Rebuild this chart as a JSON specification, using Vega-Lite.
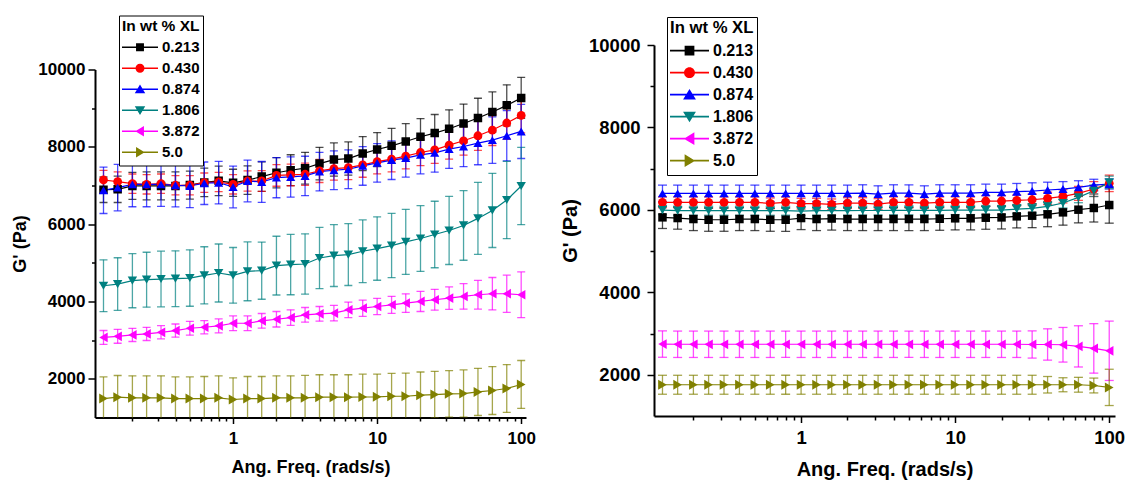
{
"$schema": "https://vega.github.io/schema/vega-lite/v6.json",
"padding": {"left": 11, "top": 15, "right": 5, "bottom": 0},
"background": "white",
"config": {"view": {"stroke": null}, "font": "Liberation Sans"},
"spacing": 24,
"center": true,
"datasets": {
"a": [
{"s":"0.213","f":0.126,"g":6890,"e":330},{"s":"0.213","f":0.158,"g":6900,"e":340},{"s":"0.213","f":0.2,"g":6990,"e":350},{"s":"0.213","f":0.251,"g":6990,"e":360},{"s":"0.213","f":0.316,"g":6990,"e":360},{"s":"0.213","f":0.398,"g":6990,"e":360},{"s":"0.213","f":0.501,"g":7010,"e":360},{"s":"0.213","f":0.631,"g":7080,"e":370},{"s":"0.213","f":0.794,"g":7120,"e":380},{"s":"0.213","f":1,"g":7070,"e":350},{"s":"0.213","f":1.26,"g":7140,"e":370},{"s":"0.213","f":1.58,"g":7230,"e":380},{"s":"0.213","f":2,"g":7330,"e":390},{"s":"0.213","f":2.51,"g":7395,"e":400},{"s":"0.213","f":3.16,"g":7447,"e":410},{"s":"0.213","f":3.98,"g":7567,"e":420},{"s":"0.213","f":5.01,"g":7671,"e":430},{"s":"0.213","f":6.31,"g":7697,"e":430},{"s":"0.213","f":7.94,"g":7826,"e":440},{"s":"0.213","f":10,"g":7930,"e":440},{"s":"0.213","f":12.6,"g":8026,"e":450},{"s":"0.213","f":15.8,"g":8138,"e":460},{"s":"0.213","f":20,"g":8260,"e":470},{"s":"0.213","f":25.1,"g":8356,"e":480},{"s":"0.213","f":31.6,"g":8468,"e":490},{"s":"0.213","f":39.8,"g":8605,"e":500},{"s":"0.213","f":50.1,"g":8746,"e":510},{"s":"0.213","f":63.1,"g":8901,"e":520},{"s":"0.213","f":79.4,"g":9073,"e":530},{"s":"0.213","f":100,"g":9265,"e":530},
{"s":"0.430","f":0.126,"g":7143,"e":250},{"s":"0.430","f":0.158,"g":7100,"e":250},{"s":"0.430","f":0.2,"g":7047,"e":250},{"s":"0.430","f":0.251,"g":7030,"e":250},{"s":"0.430","f":0.316,"g":7047,"e":250},{"s":"0.430","f":0.398,"g":7006,"e":250},{"s":"0.430","f":0.501,"g":7006,"e":250},{"s":"0.430","f":0.631,"g":7073,"e":250},{"s":"0.430","f":0.794,"g":7091,"e":250},{"s":"0.430","f":1,"g":7030,"e":250},{"s":"0.430","f":1.26,"g":7117,"e":260},{"s":"0.430","f":1.58,"g":7117,"e":270},{"s":"0.430","f":2,"g":7260,"e":280},{"s":"0.430","f":2.51,"g":7273,"e":280},{"s":"0.430","f":3.16,"g":7291,"e":290},{"s":"0.430","f":3.98,"g":7377,"e":300},{"s":"0.430","f":5.01,"g":7437,"e":300},{"s":"0.430","f":6.31,"g":7463,"e":310},{"s":"0.430","f":7.94,"g":7533,"e":320},{"s":"0.430","f":10,"g":7619,"e":320},{"s":"0.430","f":12.6,"g":7681,"e":330},{"s":"0.430","f":15.8,"g":7759,"e":330},{"s":"0.430","f":20,"g":7853,"e":340},{"s":"0.430","f":25.1,"g":7922,"e":350},{"s":"0.430","f":31.6,"g":8044,"e":360},{"s":"0.430","f":39.8,"g":8156,"e":370},{"s":"0.430","f":50.1,"g":8286,"e":380},{"s":"0.430","f":63.1,"g":8434,"e":400},{"s":"0.430","f":79.4,"g":8616,"e":420},{"s":"0.430","f":100,"g":8813,"e":450},
{"s":"0.874","f":0.126,"g":6876,"e":600},{"s":"0.874","f":0.158,"g":6944,"e":600},{"s":"0.874","f":0.2,"g":7030,"e":580},{"s":"0.874","f":0.251,"g":7030,"e":580},{"s":"0.874","f":0.316,"g":7030,"e":570},{"s":"0.874","f":0.398,"g":7006,"e":560},{"s":"0.874","f":0.501,"g":6987,"e":560},{"s":"0.874","f":0.631,"g":7058,"e":550},{"s":"0.874","f":0.794,"g":7073,"e":550},{"s":"0.874","f":1,"g":6962,"e":540},{"s":"0.874","f":1.26,"g":7117,"e":540},{"s":"0.874","f":1.58,"g":7091,"e":530},{"s":"0.874","f":2,"g":7203,"e":520},{"s":"0.874","f":2.51,"g":7221,"e":520},{"s":"0.874","f":3.16,"g":7247,"e":510},{"s":"0.874","f":3.98,"g":7359,"e":500},{"s":"0.874","f":5.01,"g":7395,"e":500},{"s":"0.874","f":6.31,"g":7421,"e":500},{"s":"0.874","f":7.94,"g":7507,"e":500},{"s":"0.874","f":10,"g":7585,"e":500},{"s":"0.874","f":12.6,"g":7655,"e":500},{"s":"0.874","f":15.8,"g":7707,"e":490},{"s":"0.874","f":20,"g":7793,"e":490},{"s":"0.874","f":25.1,"g":7844,"e":500},{"s":"0.874","f":31.6,"g":7941,"e":500},{"s":"0.874","f":39.8,"g":8008,"e":520},{"s":"0.874","f":50.1,"g":8096,"e":560},{"s":"0.874","f":63.1,"g":8174,"e":600},{"s":"0.874","f":79.4,"g":8286,"e":650},{"s":"0.874","f":100,"g":8398,"e":700},
{"s":"1.806","f":0.126,"g":4408,"e":670},{"s":"1.806","f":0.158,"g":4451,"e":680},{"s":"1.806","f":0.2,"g":4538,"e":700},{"s":"1.806","f":0.251,"g":4564,"e":710},{"s":"1.806","f":0.316,"g":4581,"e":720},{"s":"1.806","f":0.398,"g":4590,"e":720},{"s":"1.806","f":0.501,"g":4607,"e":730},{"s":"1.806","f":0.631,"g":4676,"e":740},{"s":"1.806","f":0.794,"g":4737,"e":750},{"s":"1.806","f":1,"g":4676,"e":720},{"s":"1.806","f":1.26,"g":4780,"e":760},{"s":"1.806","f":1.58,"g":4798,"e":740},{"s":"1.806","f":2,"g":4928,"e":760},{"s":"1.806","f":2.51,"g":4954,"e":780},{"s":"1.806","f":3.16,"g":4970,"e":780},{"s":"1.806","f":3.98,"g":5125,"e":790},{"s":"1.806","f":5.01,"g":5188,"e":800},{"s":"1.806","f":6.31,"g":5214,"e":800},{"s":"1.806","f":7.94,"g":5299,"e":810},{"s":"1.806","f":10,"g":5369,"e":820},{"s":"1.806","f":12.6,"g":5447,"e":830},{"s":"1.806","f":15.8,"g":5541,"e":840},{"s":"1.806","f":20,"g":5629,"e":850},{"s":"1.806","f":25.1,"g":5733,"e":860},{"s":"1.806","f":31.6,"g":5837,"e":880},{"s":"1.806","f":39.8,"g":5967,"e":900},{"s":"1.806","f":50.1,"g":6149,"e":930},{"s":"1.806","f":63.1,"g":6356,"e":960},{"s":"1.806","f":79.4,"g":6624,"e":1000},{"s":"1.806","f":100,"g":6987,"e":1000},
{"s":"3.872","f":0.126,"g":3070,"e":180},{"s":"3.872","f":0.158,"g":3100,"e":180},{"s":"3.872","f":0.2,"g":3136,"e":170},{"s":"3.872","f":0.251,"g":3162,"e":170},{"s":"3.872","f":0.316,"g":3204,"e":170},{"s":"3.872","f":0.398,"g":3248,"e":170},{"s":"3.872","f":0.501,"g":3308,"e":180},{"s":"3.872","f":0.631,"g":3334,"e":170},{"s":"3.872","f":0.794,"g":3370,"e":180},{"s":"3.872","f":1,"g":3437,"e":190},{"s":"3.872","f":1.26,"g":3437,"e":190},{"s":"3.872","f":1.58,"g":3500,"e":190},{"s":"3.872","f":2,"g":3541,"e":200},{"s":"3.872","f":2.51,"g":3585,"e":200},{"s":"3.872","f":3.16,"g":3655,"e":190},{"s":"3.872","f":3.98,"g":3681,"e":190},{"s":"3.872","f":5.01,"g":3698,"e":200},{"s":"3.872","f":6.31,"g":3785,"e":200},{"s":"3.872","f":7.94,"g":3827,"e":210},{"s":"3.872","f":10,"g":3871,"e":210},{"s":"3.872","f":12.6,"g":3915,"e":220},{"s":"3.872","f":15.8,"g":3958,"e":240},{"s":"3.872","f":20,"g":4001,"e":260},{"s":"3.872","f":25.1,"g":4045,"e":270},{"s":"3.872","f":31.6,"g":4088,"e":290},{"s":"3.872","f":39.8,"g":4131,"e":330},{"s":"3.872","f":50.1,"g":4175,"e":370},{"s":"3.872","f":63.1,"g":4201,"e":420},{"s":"3.872","f":79.4,"g":4201,"e":480},{"s":"3.872","f":100,"g":4175,"e":590},
{"s":"5.0","f":0.126,"g":1490,"e":560},{"s":"5.0","f":0.158,"g":1526,"e":560},{"s":"5.0","f":0.2,"g":1508,"e":570},{"s":"5.0","f":0.251,"g":1508,"e":570},{"s":"5.0","f":0.316,"g":1508,"e":570},{"s":"5.0","f":0.398,"g":1490,"e":560},{"s":"5.0","f":0.501,"g":1490,"e":560},{"s":"5.0","f":0.631,"g":1490,"e":570},{"s":"5.0","f":0.794,"g":1508,"e":570},{"s":"5.0","f":1,"g":1465,"e":560},{"s":"5.0","f":1.26,"g":1490,"e":570},{"s":"5.0","f":1.58,"g":1490,"e":570},{"s":"5.0","f":2,"g":1508,"e":570},{"s":"5.0","f":2.51,"g":1508,"e":570},{"s":"5.0","f":3.16,"g":1508,"e":580},{"s":"5.0","f":3.98,"g":1526,"e":580},{"s":"5.0","f":5.01,"g":1526,"e":580},{"s":"5.0","f":6.31,"g":1526,"e":580},{"s":"5.0","f":7.94,"g":1530,"e":590},{"s":"5.0","f":10,"g":1534,"e":590},{"s":"5.0","f":12.6,"g":1550,"e":590},{"s":"5.0","f":15.8,"g":1550,"e":600},{"s":"5.0","f":20,"g":1577,"e":600},{"s":"5.0","f":25.1,"g":1594,"e":600},{"s":"5.0","f":31.6,"g":1612,"e":600},{"s":"5.0","f":39.8,"g":1620,"e":610},{"s":"5.0","f":50.1,"g":1662,"e":610},{"s":"5.0","f":63.1,"g":1698,"e":620},{"s":"5.0","f":79.4,"g":1750,"e":620},{"s":"5.0","f":100,"g":1854,"e":620}
],
"b": [
{"s":"0.213","f":0.126,"g":5819,"e":270},{"s":"0.213","f":0.158,"g":5802,"e":270},{"s":"0.213","f":0.2,"g":5778,"e":280},{"s":"0.213","f":0.251,"g":5761,"e":280},{"s":"0.213","f":0.316,"g":5761,"e":280},{"s":"0.213","f":0.398,"g":5778,"e":280},{"s":"0.213","f":0.501,"g":5778,"e":280},{"s":"0.213","f":0.631,"g":5761,"e":280},{"s":"0.213","f":0.794,"g":5761,"e":280},{"s":"0.213","f":1,"g":5802,"e":280},{"s":"0.213","f":1.26,"g":5778,"e":280},{"s":"0.213","f":1.58,"g":5790,"e":280},{"s":"0.213","f":2,"g":5778,"e":280},{"s":"0.213","f":2.51,"g":5778,"e":280},{"s":"0.213","f":3.16,"g":5778,"e":280},{"s":"0.213","f":3.98,"g":5778,"e":280},{"s":"0.213","f":5.01,"g":5778,"e":280},{"s":"0.213","f":6.31,"g":5778,"e":280},{"s":"0.213","f":7.94,"g":5785,"e":280},{"s":"0.213","f":10,"g":5795,"e":280},{"s":"0.213","f":12.6,"g":5795,"e":280},{"s":"0.213","f":15.8,"g":5810,"e":280},{"s":"0.213","f":20,"g":5818,"e":280},{"s":"0.213","f":25.1,"g":5843,"e":280},{"s":"0.213","f":31.6,"g":5859,"e":290},{"s":"0.213","f":39.8,"g":5892,"e":300},{"s":"0.213","f":50.1,"g":5940,"e":310},{"s":"0.213","f":63.1,"g":6005,"e":320},{"s":"0.213","f":79.4,"g":6046,"e":340},{"s":"0.213","f":100,"g":6118,"e":440},
{"s":"0.430","f":0.126,"g":6183,"e":130},{"s":"0.430","f":0.158,"g":6183,"e":130},{"s":"0.430","f":0.2,"g":6183,"e":130},{"s":"0.430","f":0.251,"g":6183,"e":130},{"s":"0.430","f":0.316,"g":6183,"e":130},{"s":"0.430","f":0.398,"g":6183,"e":130},{"s":"0.430","f":0.501,"g":6183,"e":130},{"s":"0.430","f":0.631,"g":6159,"e":130},{"s":"0.430","f":0.794,"g":6183,"e":130},{"s":"0.430","f":1,"g":6151,"e":130},{"s":"0.430","f":1.26,"g":6151,"e":130},{"s":"0.430","f":1.58,"g":6135,"e":130},{"s":"0.430","f":2,"g":6166,"e":130},{"s":"0.430","f":2.51,"g":6166,"e":130},{"s":"0.430","f":3.16,"g":6142,"e":130},{"s":"0.430","f":3.98,"g":6183,"e":130},{"s":"0.430","f":5.01,"g":6183,"e":130},{"s":"0.430","f":6.31,"g":6166,"e":130},{"s":"0.430","f":7.94,"g":6183,"e":130},{"s":"0.430","f":10,"g":6183,"e":130},{"s":"0.430","f":12.6,"g":6183,"e":130},{"s":"0.430","f":15.8,"g":6215,"e":130},{"s":"0.430","f":20,"g":6215,"e":130},{"s":"0.430","f":25.1,"g":6230,"e":130},{"s":"0.430","f":31.6,"g":6246,"e":140},{"s":"0.430","f":39.8,"g":6280,"e":150},{"s":"0.430","f":50.1,"g":6329,"e":160},{"s":"0.430","f":63.1,"g":6401,"e":170},{"s":"0.430","f":79.4,"g":6506,"e":180},{"s":"0.430","f":100,"g":6644,"e":200},
{"s":"0.874","f":0.126,"g":6401,"e":200},{"s":"0.874","f":0.158,"g":6401,"e":200},{"s":"0.874","f":0.2,"g":6401,"e":200},{"s":"0.874","f":0.251,"g":6401,"e":200},{"s":"0.874","f":0.316,"g":6401,"e":200},{"s":"0.874","f":0.398,"g":6401,"e":200},{"s":"0.874","f":0.501,"g":6401,"e":200},{"s":"0.874","f":0.631,"g":6401,"e":200},{"s":"0.874","f":0.794,"g":6401,"e":200},{"s":"0.874","f":1,"g":6401,"e":200},{"s":"0.874","f":1.26,"g":6401,"e":200},{"s":"0.874","f":1.58,"g":6401,"e":200},{"s":"0.874","f":2,"g":6401,"e":200},{"s":"0.874","f":2.51,"g":6409,"e":200},{"s":"0.874","f":3.16,"g":6384,"e":200},{"s":"0.874","f":3.98,"g":6409,"e":200},{"s":"0.874","f":5.01,"g":6409,"e":200},{"s":"0.874","f":6.31,"g":6384,"e":200},{"s":"0.874","f":7.94,"g":6409,"e":200},{"s":"0.874","f":10,"g":6409,"e":200},{"s":"0.874","f":12.6,"g":6409,"e":200},{"s":"0.874","f":15.8,"g":6425,"e":200},{"s":"0.874","f":20,"g":6425,"e":200},{"s":"0.874","f":25.1,"g":6441,"e":200},{"s":"0.874","f":31.6,"g":6457,"e":200},{"s":"0.874","f":39.8,"g":6482,"e":190},{"s":"0.874","f":50.1,"g":6506,"e":180},{"s":"0.874","f":63.1,"g":6547,"e":160},{"s":"0.874","f":79.4,"g":6603,"e":140},{"s":"0.874","f":100,"g":6627,"e":120},
{"s":"1.806","f":0.126,"g":5996,"e":110},{"s":"1.806","f":0.158,"g":5980,"e":110},{"s":"1.806","f":0.2,"g":5980,"e":110},{"s":"1.806","f":0.251,"g":5980,"e":110},{"s":"1.806","f":0.316,"g":5980,"e":110},{"s":"1.806","f":0.398,"g":5980,"e":110},{"s":"1.806","f":0.501,"g":5980,"e":110},{"s":"1.806","f":0.631,"g":5980,"e":110},{"s":"1.806","f":0.794,"g":5980,"e":110},{"s":"1.806","f":1,"g":5970,"e":110},{"s":"1.806","f":1.26,"g":5980,"e":110},{"s":"1.806","f":1.58,"g":5980,"e":110},{"s":"1.806","f":2,"g":5980,"e":110},{"s":"1.806","f":2.51,"g":5985,"e":110},{"s":"1.806","f":3.16,"g":5985,"e":110},{"s":"1.806","f":3.98,"g":5990,"e":110},{"s":"1.806","f":5.01,"g":5990,"e":110},{"s":"1.806","f":6.31,"g":5990,"e":110},{"s":"1.806","f":7.94,"g":5990,"e":110},{"s":"1.806","f":10,"g":5996,"e":110},{"s":"1.806","f":12.6,"g":5996,"e":110},{"s":"1.806","f":15.8,"g":5996,"e":110},{"s":"1.806","f":20,"g":5996,"e":110},{"s":"1.806","f":25.1,"g":6020,"e":110},{"s":"1.806","f":31.6,"g":6037,"e":110},{"s":"1.806","f":39.8,"g":6086,"e":110},{"s":"1.806","f":50.1,"g":6166,"e":120},{"s":"1.806","f":63.1,"g":6304,"e":130},{"s":"1.806","f":79.4,"g":6465,"e":140},{"s":"1.806","f":100,"g":6668,"e":150},
{"s":"3.872","f":0.126,"g":2745,"e":320},{"s":"3.872","f":0.158,"g":2740,"e":320},{"s":"3.872","f":0.2,"g":2740,"e":320},{"s":"3.872","f":0.251,"g":2740,"e":320},{"s":"3.872","f":0.316,"g":2740,"e":320},{"s":"3.872","f":0.398,"g":2740,"e":320},{"s":"3.872","f":0.501,"g":2740,"e":320},{"s":"3.872","f":0.631,"g":2740,"e":320},{"s":"3.872","f":0.794,"g":2740,"e":320},{"s":"3.872","f":1,"g":2740,"e":320},{"s":"3.872","f":1.26,"g":2740,"e":320},{"s":"3.872","f":1.58,"g":2740,"e":320},{"s":"3.872","f":2,"g":2740,"e":320},{"s":"3.872","f":2.51,"g":2740,"e":320},{"s":"3.872","f":3.16,"g":2740,"e":320},{"s":"3.872","f":3.98,"g":2740,"e":320},{"s":"3.872","f":5.01,"g":2740,"e":320},{"s":"3.872","f":6.31,"g":2740,"e":320},{"s":"3.872","f":7.94,"g":2740,"e":320},{"s":"3.872","f":10,"g":2740,"e":320},{"s":"3.872","f":12.6,"g":2740,"e":320},{"s":"3.872","f":15.8,"g":2740,"e":320},{"s":"3.872","f":20,"g":2740,"e":320},{"s":"3.872","f":25.1,"g":2740,"e":320},{"s":"3.872","f":31.6,"g":2735,"e":330},{"s":"3.872","f":39.8,"g":2735,"e":380},{"s":"3.872","f":50.1,"g":2728,"e":420},{"s":"3.872","f":63.1,"g":2689,"e":500},{"s":"3.872","f":79.4,"g":2640,"e":600},{"s":"3.872","f":100,"g":2582,"e":720},
{"s":"5.0","f":0.126,"g":1758,"e":230},{"s":"5.0","f":0.158,"g":1758,"e":230},{"s":"5.0","f":0.2,"g":1758,"e":230},{"s":"5.0","f":0.251,"g":1758,"e":230},{"s":"5.0","f":0.316,"g":1758,"e":230},{"s":"5.0","f":0.398,"g":1758,"e":230},{"s":"5.0","f":0.501,"g":1758,"e":230},{"s":"5.0","f":0.631,"g":1758,"e":230},{"s":"5.0","f":0.794,"g":1758,"e":230},{"s":"5.0","f":1,"g":1758,"e":230},{"s":"5.0","f":1.26,"g":1758,"e":230},{"s":"5.0","f":1.58,"g":1758,"e":230},{"s":"5.0","f":2,"g":1758,"e":230},{"s":"5.0","f":2.51,"g":1758,"e":230},{"s":"5.0","f":3.16,"g":1758,"e":230},{"s":"5.0","f":3.98,"g":1758,"e":230},{"s":"5.0","f":5.01,"g":1758,"e":230},{"s":"5.0","f":6.31,"g":1758,"e":230},{"s":"5.0","f":7.94,"g":1758,"e":230},{"s":"5.0","f":10,"g":1758,"e":230},{"s":"5.0","f":12.6,"g":1758,"e":230},{"s":"5.0","f":15.8,"g":1758,"e":230},{"s":"5.0","f":20,"g":1758,"e":230},{"s":"5.0","f":25.1,"g":1758,"e":230},{"s":"5.0","f":31.6,"g":1758,"e":230},{"s":"5.0","f":39.8,"g":1758,"e":200},{"s":"5.0","f":50.1,"g":1758,"e":170},{"s":"5.0","f":63.1,"g":1758,"e":180},{"s":"5.0","f":79.4,"g":1740,"e":180},{"s":"5.0","f":100,"g":1694,"e":440}
]
},
"hconcat": [
{
"width": 431, "height": 348,
"data": {"name": "a"},
"resolve": {"scale": {"color": "independent", "shape": "independent"}},
"layer": [
{
"mark": {"type": "errorbar", "clip": true, "thickness": 1.3, "ticks": {"size": 8, "opacity": 0.7}, "rule": {"opacity": 0.7}},
"encoding": {
"x": {"field": "f", "type": "quantitative", "scale": {"type": "log", "domain": [0.11, 108], "nice": false},
"axis": {"title": "Ang. Freq. (rads/s)", "grid": false, "values": [0.2,0.3,0.4,0.5,0.6,0.7,0.8,0.9,1,2,3,4,5,6,7,8,9,10,20,30,40,50,60,70,80,90,100],
"labelExpr": "(datum.value==1||datum.value==10||datum.value==100) ? format(datum.value,'d') : ''",
"tickSize": {"condition": {"test": "datum.value==1||datum.value==10||datum.value==100", "value": 6}, "value": 3.5},
"labelOverlap": false, "labelFlush": false, "domainColor": "black", "domainWidth": 2, "tickColor": "black", "tickWidth": 1.5,
"labelFont": "Liberation Sans", "labelFontWeight": "bold", "labelFontSize": 17, "labelColor": "black", "labelPadding": 7,
"titleFont": "Liberation Sans", "titleFontWeight": "bold", "titleFontSize": 18, "titleColor": "black", "titlePadding": 12}},
"y": {"field": "g", "type": "quantitative", "scale": {"domain": [1000, 10000], "nice": false, "zero": false},
"axis": {"title": "G' (Pa)", "grid": false, "values": [2000,3000,4000,5000,6000,7000,8000,9000,10000], "format": "d",
"labelExpr": "datum.value % 2000 == 0 ? datum.label : ''",
"tickSize": {"condition": {"test": "datum.value % 2000 == 0", "value": 7}, "value": 3.5},
"labelOverlap": false, "labelFlush": false, "domainColor": "black", "domainWidth": 2, "tickColor": "black", "tickWidth": 1.5,
"labelFont": "Liberation Sans", "labelFontWeight": "bold", "labelFontSize": 17, "labelColor": "black", "labelPadding": 3,
"titleFont": "Liberation Sans", "titleFontWeight": "bold", "titleFontSize": 18, "titleColor": "black", "titlePadding": 8}},
"yError": {"field": "e"},
"color": {"field": "s", "type": "nominal", "scale": {"domain": ["0.213","0.430","0.874","1.806","3.872","5.0"], "range": ["#000000","#FF0000","#0000FF","#008080","#FF00FF","#808000"]}, "legend": null}
}
},
{
"mark": {"type": "line", "strokeWidth": 1.2, "clip": true},
"encoding": {
"x": {"field": "f", "type": "quantitative"},
"y": {"field": "g", "type": "quantitative"},
"color": {"field": "s", "type": "nominal", "scale": {"domain": ["0.213","0.430","0.874","1.806","3.872","5.0"], "range": ["#000000","#FF0000","#0000FF","#008080","#FF00FF","#808000"]}, "legend": null}
}
},
{
"mark": {"type": "point", "filled": true, "opacity": 1, "clip": true},
"encoding": {
"x": {"field": "f", "type": "quantitative"},
"y": {"field": "g", "type": "quantitative"},
"color": {"field": "s", "type": "nominal", "scale": {"domain": ["0.213","0.430","0.874","1.806","3.872","5.0"], "range": ["#000000","#FF0000","#0000FF","#008080","#FF00FF","#808000"]}, "legend": null},
"shape": {"field": "s", "type": "nominal", "scale": {"domain": ["0.213","0.430","0.874","1.806","3.872","5.0"], "range": ["square","circle","triangle-up","triangle-down","triangle-left","triangle-right"]}, "legend": null},
"size": {"field": "s", "type": "nominal", "scale": {"domain": ["0.213","0.430","0.874","1.806","3.872","5.0"], "range": [72,100,125,125,125,125]}, "legend": null}
}
},
{
"transform": [{"filter": "datum.g < 0"}],
"mark": {"type": "point", "filled": true, "opacity": 1},
"encoding": {
"x": {"field": "f", "type": "quantitative"},
"y": {"field": "g", "type": "quantitative"},
"color": {"field": "s", "type": "nominal", "scale": {"domain": ["0.213","0.430","0.874","1.806","3.872","5.0"], "range": ["#000000","#FF0000","#0000FF","#008080","#FF00FF","#808000"]},
"legend": {"title": "In wt % XL", "orient": "none", "legendX": 24, "legendY": -54, "titleFont": "Liberation Sans", "titleFontSize": 15.5, "titleFontWeight": "bold", "titleColor": "black", "titlePadding": 3, "labelFont": "Liberation Sans", "labelFontSize": 15, "labelFontWeight": "bold", "labelColor": "black", "strokeColor": "black", "fillColor": "white", "padding": 3, "symbolSize": 1296, "clipHeight": 20.4, "rowPadding": 0, "labelOffset": 4, "symbolStrokeWidth": 0}},
"shape": {"field": "s", "type": "nominal", "scale": {"domain": ["0.213","0.430","0.874","1.806","3.872","5.0"], "range": [
"M-1,-0.04H1V0.04H-1ZM-0.22,-0.22H0.22V0.22H-0.22Z",
"M-1,-0.04H1V0.04H-1ZM-0.25,0A0.25,0.25,0,1,1,0.25,0A0.25,0.25,0,1,1,-0.25,0Z",
"M-1,-0.04H1V0.04H-1ZM0,-0.26L0.29,0.22H-0.29Z",
"M-1,-0.04H1V0.04H-1ZM-0.29,-0.22H0.29L0,0.26Z",
"M-1,-0.04H1V0.04H-1ZM-0.26,0L0.22,-0.29V0.29Z",
"M-1,-0.04H1V0.04H-1ZM0.26,0L-0.22,0.29V-0.29Z"]},
"legend": {"title": "In wt % XL", "orient": "none", "legendX": 24, "legendY": -54, "titleFont": "Liberation Sans", "titleFontSize": 15.5, "titleFontWeight": "bold", "titleColor": "black", "titlePadding": 3, "labelFont": "Liberation Sans", "labelFontSize": 15, "labelFontWeight": "bold", "labelColor": "black", "strokeColor": "black", "fillColor": "white", "padding": 3, "symbolSize": 1296, "clipHeight": 20.4, "rowPadding": 0, "labelOffset": 4, "symbolStrokeWidth": 0}}
}
}
]
},
{
"width": 461, "height": 371,
"title": {"text": " ", "orient": "bottom", "fontSize": 20, "offset": 2},
"data": {"name": "b"},
"resolve": {"scale": {"color": "independent", "shape": "independent"}},
"layer": [
{
"mark": {"type": "errorbar", "clip": true, "thickness": 1.3, "ticks": {"size": 9, "opacity": 0.7}, "rule": {"opacity": 0.7}},
"encoding": {
"x": {"field": "f", "type": "quantitative", "scale": {"type": "log", "domain": [0.111, 109], "nice": false},
"axis": {"title": "Ang. Freq. (rads/s)", "grid": false, "values": [0.2,0.3,0.4,0.5,0.6,0.7,0.8,0.9,1,2,3,4,5,6,7,8,9,10,20,30,40,50,60,70,80,90,100],
"labelExpr": "(datum.value==1||datum.value==10||datum.value==100) ? format(datum.value,'d') : ''",
"tickSize": {"condition": {"test": "datum.value==1||datum.value==10||datum.value==100", "value": 6.5}, "value": 4},
"labelOverlap": false, "labelFlush": false, "domainColor": "black", "domainWidth": 2, "tickColor": "black", "tickWidth": 1.5,
"labelFont": "Liberation Sans", "labelFontWeight": "bold", "labelFontSize": 18.5, "labelColor": "black", "labelPadding": 6,
"titleFont": "Liberation Sans", "titleFontWeight": "bold", "titleFontSize": 20, "titleColor": "black", "titlePadding": 12}},
"y": {"field": "g", "type": "quantitative", "scale": {"domain": [1000, 10000], "nice": false, "zero": false},
"axis": {"title": "G' (Pa)", "grid": false, "values": [2000,3000,4000,5000,6000,7000,8000,9000,10000], "format": "d",
"labelExpr": "datum.value % 2000 == 0 ? datum.label : ''",
"tickSize": {"condition": {"test": "datum.value % 2000 == 0", "value": 7}, "value": 4},
"labelOverlap": false, "labelFlush": false, "domainColor": "black", "domainWidth": 2, "tickColor": "black", "tickWidth": 1.5,
"labelFont": "Liberation Sans", "labelFontWeight": "bold", "labelFontSize": 18.5, "labelColor": "black", "labelPadding": 7,
"titleFont": "Liberation Sans", "titleFontWeight": "bold", "titleFontSize": 20, "titleColor": "black", "titlePadding": 8}},
"yError": {"field": "e"},
"color": {"field": "s", "type": "nominal", "scale": {"domain": ["0.213","0.430","0.874","1.806","3.872","5.0"], "range": ["#000000","#FF0000","#0000FF","#008080","#FF00FF","#808000"]}, "legend": null}
}
},
{
"mark": {"type": "line", "strokeWidth": 1.2, "clip": true},
"encoding": {
"x": {"field": "f", "type": "quantitative"},
"y": {"field": "g", "type": "quantitative"},
"color": {"field": "s", "type": "nominal", "scale": {"domain": ["0.213","0.430","0.874","1.806","3.872","5.0"], "range": ["#000000","#FF0000","#0000FF","#008080","#FF00FF","#808000"]}, "legend": null}
}
},
{
"mark": {"type": "point", "filled": true, "opacity": 1, "clip": true},
"encoding": {
"x": {"field": "f", "type": "quantitative"},
"y": {"field": "g", "type": "quantitative"},
"color": {"field": "s", "type": "nominal", "scale": {"domain": ["0.213","0.430","0.874","1.806","3.872","5.0"], "range": ["#000000","#FF0000","#0000FF","#008080","#FF00FF","#808000"]}, "legend": null},
"shape": {"field": "s", "type": "nominal", "scale": {"domain": ["0.213","0.430","0.874","1.806","3.872","5.0"], "range": ["square","circle","triangle-up","triangle-down","triangle-left","triangle-right"]}, "legend": null},
"size": {"field": "s", "type": "nominal", "scale": {"domain": ["0.213","0.430","0.874","1.806","3.872","5.0"], "range": [88,115,145,145,145,145]}, "legend": null}
}
},
{
"transform": [{"filter": "datum.g < 0"}],
"mark": {"type": "point", "filled": true, "opacity": 1},
"encoding": {
"x": {"field": "f", "type": "quantitative"},
"y": {"field": "g", "type": "quantitative"},
"color": {"field": "s", "type": "nominal", "scale": {"domain": ["0.213","0.430","0.874","1.806","3.872","5.0"], "range": ["#000000","#FF0000","#0000FF","#008080","#FF00FF","#808000"]},
"legend": {"title": "In wt % XL", "orient": "none", "legendX": 13, "legendY": -28, "titleFont": "Liberation Sans", "titleFontSize": 16.7, "titleFontWeight": "bold", "titleColor": "black", "titlePadding": 3, "labelFont": "Liberation Sans", "labelFontSize": 16, "labelFontWeight": "bold", "labelColor": "black", "strokeColor": "black", "fillColor": "white", "padding": 3, "symbolSize": 1521, "clipHeight": 21.9, "rowPadding": 0, "labelOffset": 4, "symbolStrokeWidth": 0}},
"shape": {"field": "s", "type": "nominal", "scale": {"domain": ["0.213","0.430","0.874","1.806","3.872","5.0"], "range": [
"M-1,-0.04H1V0.04H-1ZM-0.25,-0.25H0.25V0.25H-0.25Z",
"M-1,-0.04H1V0.04H-1ZM-0.28,0A0.28,0.28,0,1,1,0.28,0A0.28,0.28,0,1,1,-0.28,0Z",
"M-1,-0.04H1V0.04H-1ZM0,-0.29L0.33,0.25H-0.33Z",
"M-1,-0.04H1V0.04H-1ZM-0.33,-0.25H0.33L0,0.29Z",
"M-1,-0.04H1V0.04H-1ZM-0.29,0L0.25,-0.33V0.33Z",
"M-1,-0.04H1V0.04H-1ZM0.29,0L-0.25,0.33V-0.33Z"]},
"legend": {"title": "In wt % XL", "orient": "none", "legendX": 13, "legendY": -28, "titleFont": "Liberation Sans", "titleFontSize": 16.7, "titleFontWeight": "bold", "titleColor": "black", "titlePadding": 3, "labelFont": "Liberation Sans", "labelFontSize": 16, "labelFontWeight": "bold", "labelColor": "black", "strokeColor": "black", "fillColor": "white", "padding": 3, "symbolSize": 1521, "clipHeight": 21.9, "rowPadding": 0, "labelOffset": 4, "symbolStrokeWidth": 0}}
}
}
]
}
]
}
